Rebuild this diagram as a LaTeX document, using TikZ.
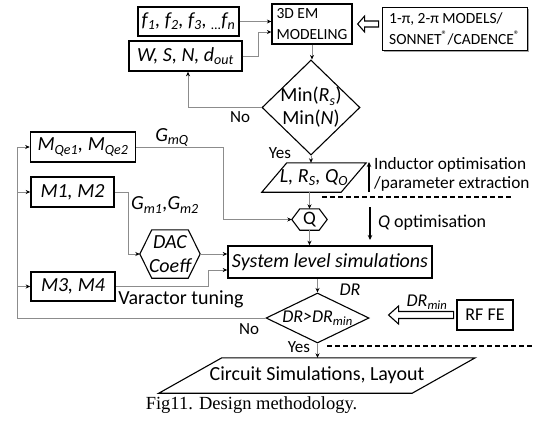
\documentclass[tikz,border=0pt]{standalone}
\usepackage{fontspec}
\setmainfont{Carlito}
\newfontfamily\capfont{Liberation Serif}
\usetikzlibrary{arrows.meta,shapes.geometric,shadows,calc}
\newcommand{\sbs}[1]{\textsubscript{#1}}
\newcommand{\fsz}[1]{\fontsize{#1}{#1}\selectfont}
\definecolor{linegray}{RGB}{140,140,140}
\begin{document}
\begin{tikzpicture}[x=1pt,y=-1pt,
  conn/.style={draw=linegray, line width=0.9pt, -{Stealth[length=4.5pt,width=4pt,color=black]}},
  lineonly/.style={draw=linegray, line width=0.9pt},
  box/.style={draw=black, line width=1.6pt, inner sep=0pt, fill=white},
  dia/.style={diamond, draw=black, line width=1.1pt, inner sep=0pt},
  ghost/.style={draw=none, inner sep=0pt},
  txt/.style={inner sep=0pt},
  hollowshape/.style={draw=black, line width=1.1pt, fill=white, line join=miter},
  bigarrow/.style={black, line width=1.2pt, -{Stealth[length=5pt,width=4.5pt]}},
  dashline/.style={black, line width=1.2pt, dash pattern=on 5pt off 3pt}
]
\useasboundingbox (0,0) rectangle (534,421);
\fill[white] (0,0) rectangle (534,421);

% top boxes
\node[box, minimum width=101pt, minimum height=29pt, font=\fsz{20}\itshape] (fbox) at (188.5,21.5)
  {f\sbs{1}, f\sbs{2}, f\sbs{3}, \sbs{…}f\sbs{n}};
\node[box, minimum width=113pt, minimum height=30pt, font=\fsz{20}\itshape] (wbox) at (185.5,56)
  {W, S, N, d\sbs{out}};
\node[box, line width=1.3pt, minimum width=80pt, minimum height=40pt, align=left,
  font={\fontsize{15.5}{21}\selectfont}] (em) at (312,24)
  {3D EM\\MODELING};
\node[draw=black, line width=1pt, fill=white, inner sep=0pt,
  drop shadow={shadow xshift=1.5pt, shadow yshift=-1.5pt, fill=gray!70, opacity=1},
  minimum width=145pt, minimum height=43pt, align=left,
  font={\fontsize{15.5}{21}\selectfont}] (models) at (454.5,28.5)
  {1-π, 2-π MODELS/\\SONNET\textsuperscript{®}/CADENCE\textsuperscript{®}};
% hollow arrow models -> em
\coordinate (h1) at ([xshift=5pt]em.east);
\draw[hollowshape] (h1) -- ++(7,-8) -- ++(0,5) -- ++(14,0) -- ++(0,6) -- ++(-14,0) -- ++(0,5) -- cycle;

% Min diamond
\node[dia, minimum width=98pt, minimum height=95pt] (min) at (311,107.5) {};
\node[txt, align=center, font={\fontsize{20}{23}\selectfont}] (mintxt) at (min.center)
  {Min(\textit{R}\sbs{\textit{s}})\\Min(\textit{N})};

% L R Q parallelogram
\node[ghost, minimum width=104pt, minimum height=29pt, font=\fsz{20}\itshape] (lrq) at (314,177.5)
  {L, R\sbs{S}, Q\sbs{O}};
\draw[black, line width=1.1pt] (lrq.south west) -- ([xshift=25pt]lrq.north west) -- (lrq.north east)
  -- ([xshift=-25pt]lrq.south east) -- cycle;

% Q hexagon
\node[ghost, minimum width=35pt, minimum height=21pt, font=\fsz{19}] (q) at (309.5,219.5) {Q};
\draw[black, line width=1.1pt] (q.west) -- ([xshift=8pt]q.north west) -- ([xshift=-8pt]q.north east)
  -- (q.east) -- ([xshift=-8pt]q.south east) -- ([xshift=8pt]q.south west) -- cycle;

% system box
\node[box, minimum width=204pt, minimum height=32pt, font=\fsz{20}\itshape] (sys) at (330,262)
  {System level simulations};

% left M boxes
\node[box, minimum width=105pt, minimum height=30pt, font=\fsz{20}\itshape] (mqe) at (83,147)
  {M\sbs{Qe1}, M\sbs{Qe2}};
\node[box, minimum width=83pt, minimum height=30pt, font=\fsz{20}\itshape] (m12) at (72.5,192)
  {M1, M2};
\node[box, minimum width=84pt, minimum height=29pt, font=\fsz{20}\itshape] (m34) at (73,286.5)
  {M3, M4};

% DAC hexagon
\node[ghost, minimum width=60pt, minimum height=48pt, align=center,
  font={\fontsize{20}{24}\selectfont\itshape}] (dac) at (170,254)
  {DAC\\Coeff};
\draw[black, line width=1.1pt] (dac.west) -- ([xshift=12pt]dac.north west) -- ([xshift=-12pt]dac.north east)
  -- (dac.east) -- ([xshift=-12pt]dac.south east) -- ([xshift=12pt]dac.south west) -- cycle;

% DR diamond
\node[dia, minimum width=103pt, minimum height=50pt] (dr) at (317.5,318) {};
\node[txt, font=\fsz{18}\itshape] (drtxt) at (dr.center) {DR>DR\sbs{min}};

% RF FE
\node[draw=black, line width=1.3pt, inner sep=0pt, minimum width=56pt, minimum height=30pt,
  font=\fsz{18}] (rf) at (485,315) {RF FE};
% hollow arrow rf -> dr
\coordinate (h2) at ([xshift=19pt]rf.west -| dr.east);
\draw[hollowshape] (h2) -- ++(10,-9) -- ++(0,5.5) -- ++(55,0) -- ++(0,7) -- ++(-55,0) -- ++(0,5.5) -- cycle;

% Circuit parallelogram
\node[ghost, minimum width=316pt, minimum height=35pt, font=\fsz{20}] (circ) at (317,375.5)
  {Circuit Simulations, Layout};
\draw[black, line width=1.1pt] (circ.south west) -- ([xshift=63pt]circ.north west) -- (circ.north east)
  -- ([xshift=-63pt]circ.south east) -- cycle;

% connectors top
\draw[conn] (fbox.east) -- (fbox.east -| em.west);
\draw[conn] (wbox.east) -- ++(16,0) |- ([yshift=-8pt]em.west);
\draw[conn] (em.south) -- (em.south |- min.north);
\draw[conn] (min.west) -| ([xshift=2.5pt]wbox.south);
\draw[conn] (min.south) -- (min.south |- lrq.north);
\draw[conn] (q.north |- lrq.south) -- (q.north);
\draw[conn] (q.south) -- (q.south |- sys.north);
\draw[conn] (dr.north |- sys.south) -- (dr.north);
\draw[conn] (dr.south) -- (dr.south |- circ.north);

% left side connectors
\coordinate (xl) at (17,0);
\draw[lineonly] (dr.west) -- (xl |- dr.west) -- (xl |- mqe.west);
\draw[conn] (xl |- mqe.west) -- (mqe.west);
\draw[conn] (xl |- m12.west) -- (m12.west);
\draw[conn] (xl |- m34.west) -- (m34.west);
\draw[conn] (mqe.east) -- ++(87,0) |- (q.west);
\draw[conn] (m12.east) -- ++(14,0) |- (dac.west);
\draw[conn] (dac.east) -- (dac.east -| sys.west);
\draw[conn] (m34.east) -- ++(93,0) |- ([yshift=-8pt]sys.west);

% labels
\node[txt, font=\fsz{17}] (no1) at (240,117) {No};
\node[txt, font=\fsz{17}] (yes1) at (280,153) {Yes};
\node[txt, font=\fsz{17}] (no2) at (249,329) {No};
\node[txt, font=\fsz{17}] (yes2) at (299,347) {Yes};
\node[txt, font=\fsz{20}\itshape] (gmq) at (172,137) {G\sbs{mQ}};
\node[txt, font=\fsz{20}\itshape] (gm12) at (165,205) {G\sbs{m1},G\sbs{m2}};
\node[txt, font=\fsz{20}] (var) at (181,299) {Varactor tuning};
\node[txt, font=\fsz{18}\itshape] (drl) at (350,290) {DR};
\node[txt, font=\fsz{18}\itshape] (drmin) at (427,302) {DR\sbs{min}};
\node[txt, anchor=west, font=\fsz{17.3}] (ind1) at (374,165) {Inductor optimisation};
\node[txt, anchor=west, font=\fsz{17.3}] (ind2) at (374,184) {/parameter extraction};
\node[txt, anchor=west, font=\fsz{18}] (qopt) at (378,223) {\textit{Q} optimisation};

% side arrows and dashed lines
\coordinate (ua1) at (369,192);
\coordinate (ua2) at (369,162);
\draw[bigarrow] (ua1) -- (ua2);
\coordinate (da1) at (370,207);
\coordinate (da2) at (370,240);
\draw[bigarrow] (da1) -- (da2);
\coordinate (dl1a) at (322,197);
\coordinate (dl1b) at (512,197);
\draw[dashline] (dl1a) -- (dl1b);
\coordinate (dl2a) at (327,346);
\coordinate (dl2b) at (534,346);
\draw[dashline] (dl2a) -- (dl2b);

% caption
\node[txt, font=\capfont\fsz{18.5}] (cap) at (251.5,405) {Fig11. Design methodology.};
\end{tikzpicture}
\end{document}
